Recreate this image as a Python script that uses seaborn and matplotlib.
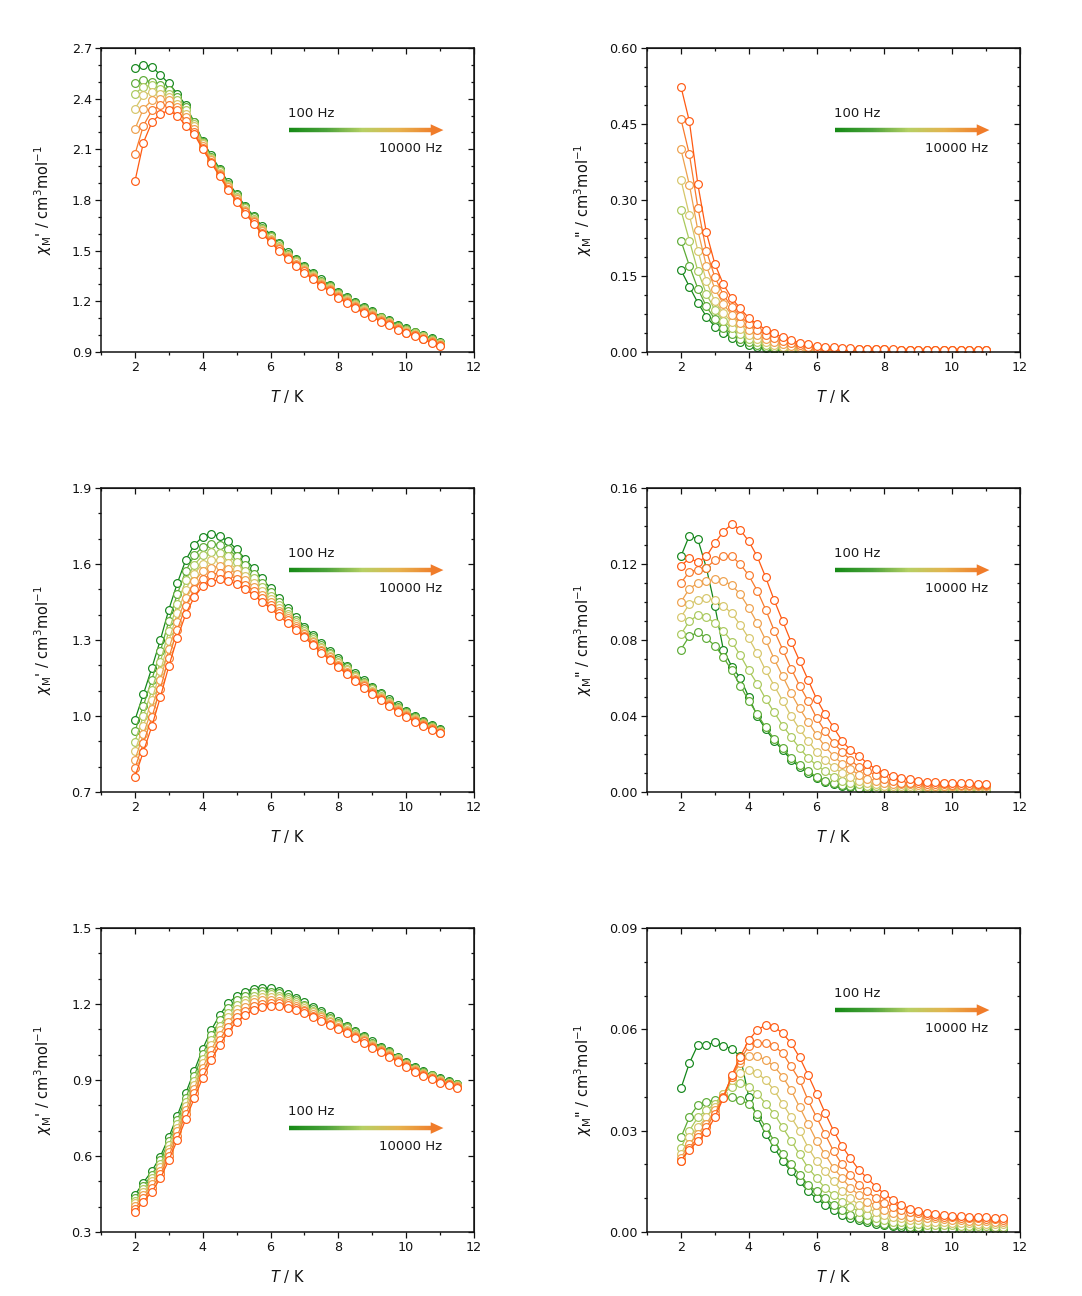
import numpy as np
import pandas as pd
import matplotlib
matplotlib.use("Agg")
import matplotlib.pyplot as plt
import seaborn as sns
from matplotlib.ticker import MultipleLocator, FixedLocator, FormatStrFormatter, NullFormatter
from matplotlib.collections import LineCollection
from matplotlib.colors import LinearSegmentedColormap
from matplotlib.patches import Polygon

# ---------------- data ----------------
freqs = [100, 215, 464, 1000, 2154, 4642, 10000]

T_a = [2.0, 2.25, 2.5, 2.75, 3.0, 3.25, 3.5, 3.75, 4.0, 4.25, 4.5, 4.75, 5.0, 5.25,
       5.5, 5.75, 6.0, 6.25, 6.5, 6.75, 7.0, 7.25, 7.5, 7.75, 8.0, 8.25, 8.5, 8.75,
       9.0, 9.25, 9.5, 9.75, 10.0, 10.25, 10.5, 10.75, 11.0]
T_b = T_a + [11.25, 11.5]

# panel 1: chi' (top)
p1_chi1 = [
    [2.58, 2.60, 2.59, 2.54, 2.49, 2.43, 2.36, 2.26, 2.15, 2.065, 1.985, 1.905, 1.835, 1.765, 1.705, 1.645, 1.595, 1.545, 1.49, 1.45, 1.41, 1.37, 1.33, 1.295, 1.255, 1.225, 1.195, 1.165, 1.14, 1.11, 1.09, 1.06, 1.04, 1.02, 1.00, 0.98, 0.96],
    [2.49, 2.51, 2.50, 2.48, 2.45, 2.41, 2.35, 2.26, 2.145, 2.057, 1.977, 1.897, 1.827, 1.757, 1.697, 1.637, 1.587, 1.537, 1.483, 1.443, 1.403, 1.363, 1.323, 1.289, 1.249, 1.219, 1.189, 1.159, 1.135, 1.105, 1.085, 1.055, 1.035, 1.016, 0.996, 0.976, 0.956],
    [2.43, 2.47, 2.48, 2.46, 2.43, 2.39, 2.33, 2.25, 2.14, 2.05, 1.97, 1.89, 1.82, 1.75, 1.69, 1.63, 1.58, 1.53, 1.477, 1.437, 1.397, 1.357, 1.317, 1.283, 1.243, 1.213, 1.183, 1.153, 1.13, 1.10, 1.08, 1.05, 1.03, 1.012, 0.992, 0.972, 0.952],
    [2.34, 2.42, 2.44, 2.43, 2.41, 2.37, 2.31, 2.24, 2.13, 2.042, 1.962, 1.882, 1.812, 1.742, 1.682, 1.622, 1.572, 1.522, 1.47, 1.43, 1.39, 1.35, 1.31, 1.278, 1.238, 1.208, 1.178, 1.148, 1.125, 1.095, 1.075, 1.045, 1.025, 1.007, 0.987, 0.967, 0.947],
    [2.22, 2.34, 2.39, 2.40, 2.39, 2.35, 2.29, 2.22, 2.12, 2.035, 1.955, 1.875, 1.805, 1.735, 1.675, 1.615, 1.565, 1.515, 1.463, 1.423, 1.383, 1.343, 1.303, 1.272, 1.232, 1.202, 1.172, 1.142, 1.12, 1.09, 1.07, 1.04, 1.02, 1.003, 0.983, 0.963, 0.943],
    [2.07, 2.24, 2.33, 2.36, 2.36, 2.33, 2.27, 2.20, 2.11, 2.027, 1.947, 1.867, 1.797, 1.727, 1.667, 1.607, 1.557, 1.507, 1.457, 1.417, 1.377, 1.337, 1.297, 1.266, 1.226, 1.196, 1.166, 1.136, 1.115, 1.085, 1.065, 1.035, 1.015, 0.999, 0.979, 0.959, 0.939],
    [1.91, 2.14, 2.26, 2.31, 2.33, 2.30, 2.24, 2.19, 2.10, 2.02, 1.94, 1.86, 1.79, 1.72, 1.66, 1.60, 1.55, 1.50, 1.45, 1.41, 1.37, 1.33, 1.29, 1.26, 1.22, 1.19, 1.16, 1.13, 1.11, 1.08, 1.06, 1.03, 1.01, 0.995, 0.975, 0.955, 0.935],
]

# panel 2: chi'' (top)
p2_chi2 = [
    [0.162, 0.129, 0.097, 0.070, 0.050, 0.038, 0.028, 0.020, 0.014, 0.010, 0.007, 0.005, 0.004, 0.003, 0.002, 0.002, 0.001, 0.001, 0.001, 0.001, 0.001, 0.001, 0.001, 0.001, 0.0005, 0.0005, 0.0005, 0.0005, 0.0005, 0.0005, 0.0005, 0.0005, 0.0005, 0.0005, 0.0005, 0.0005, 0.0005],
    [0.22, 0.17, 0.125, 0.09, 0.065, 0.048, 0.036, 0.026, 0.019, 0.014, 0.010, 0.007, 0.005, 0.004, 0.003, 0.003, 0.002, 0.002, 0.002, 0.002, 0.0015, 0.0015, 0.0015, 0.0015, 0.0015, 0.001, 0.001, 0.001, 0.001, 0.001, 0.001, 0.001, 0.001, 0.001, 0.001, 0.001, 0.001],
    [0.28, 0.22, 0.16, 0.115, 0.083, 0.062, 0.047, 0.035, 0.026, 0.019, 0.014, 0.010, 0.007, 0.006, 0.004, 0.004, 0.003, 0.003, 0.003, 0.002, 0.002, 0.002, 0.002, 0.002, 0.002, 0.0015, 0.0015, 0.0015, 0.0015, 0.0015, 0.0015, 0.0015, 0.0015, 0.0015, 0.0015, 0.0015, 0.0015],
    [0.34, 0.27, 0.20, 0.14, 0.10, 0.077, 0.059, 0.045, 0.034, 0.026, 0.019, 0.014, 0.010, 0.008, 0.006, 0.005, 0.004, 0.004, 0.004, 0.003, 0.003, 0.003, 0.003, 0.003, 0.003, 0.002, 0.002, 0.002, 0.002, 0.002, 0.002, 0.002, 0.002, 0.002, 0.002, 0.002, 0.002],
    [0.40, 0.33, 0.24, 0.17, 0.125, 0.095, 0.073, 0.057, 0.044, 0.034, 0.026, 0.020, 0.015, 0.012, 0.009, 0.007, 0.006, 0.005, 0.005, 0.004, 0.004, 0.004, 0.004, 0.004, 0.004, 0.0035, 0.0035, 0.0035, 0.0035, 0.0035, 0.0035, 0.0035, 0.0035, 0.0035, 0.0035, 0.0035, 0.0035],
    [0.46, 0.39, 0.285, 0.20, 0.148, 0.113, 0.089, 0.071, 0.055, 0.044, 0.034, 0.028, 0.021, 0.017, 0.013, 0.010, 0.008, 0.007, 0.007, 0.006, 0.005, 0.005, 0.005, 0.005, 0.005, 0.004, 0.004, 0.004, 0.004, 0.004, 0.004, 0.004, 0.004, 0.004, 0.004, 0.004, 0.004],
    [0.524, 0.455, 0.331, 0.236, 0.174, 0.134, 0.106, 0.086, 0.067, 0.055, 0.044, 0.037, 0.029, 0.024, 0.018, 0.015, 0.012, 0.010, 0.009, 0.008, 0.007, 0.006, 0.006, 0.005, 0.005, 0.005, 0.004, 0.004, 0.004, 0.004, 0.003, 0.003, 0.003, 0.003, 0.003, 0.003, 0.003],
]

# panel 3: chi' (middle)
p3_chi1 = [
    [0.984, 1.086, 1.190, 1.300, 1.420, 1.524, 1.616, 1.675, 1.708, 1.718, 1.710, 1.690, 1.658, 1.620, 1.583, 1.543, 1.504, 1.465, 1.425, 1.390, 1.353, 1.320, 1.287, 1.257, 1.228, 1.199, 1.169, 1.142, 1.116, 1.090, 1.066, 1.042, 1.020, 1.000, 0.982, 0.965, 0.948],
    [0.939, 1.041, 1.144, 1.255, 1.375, 1.481, 1.573, 1.634, 1.669, 1.680, 1.676, 1.659, 1.630, 1.596, 1.562, 1.525, 1.488, 1.451, 1.414, 1.380, 1.344, 1.312, 1.280, 1.250, 1.221, 1.192, 1.163, 1.136, 1.110, 1.085, 1.061, 1.037, 1.015, 0.996, 0.978, 0.961, 0.945],
    [0.899, 1.000, 1.103, 1.214, 1.335, 1.442, 1.535, 1.597, 1.634, 1.647, 1.645, 1.631, 1.606, 1.574, 1.543, 1.508, 1.474, 1.438, 1.403, 1.371, 1.337, 1.305, 1.273, 1.243, 1.214, 1.186, 1.157, 1.131, 1.105, 1.080, 1.056, 1.033, 1.011, 0.992, 0.974, 0.957, 0.942],
    [0.861, 0.961, 1.064, 1.176, 1.297, 1.405, 1.499, 1.562, 1.601, 1.615, 1.617, 1.604, 1.582, 1.554, 1.525, 1.492, 1.461, 1.427, 1.394, 1.363, 1.329, 1.298, 1.267, 1.237, 1.208, 1.180, 1.152, 1.126, 1.100, 1.075, 1.052, 1.028, 1.007, 0.988, 0.970, 0.954, 0.939],
    [0.827, 0.927, 1.029, 1.142, 1.264, 1.372, 1.467, 1.531, 1.572, 1.586, 1.591, 1.581, 1.561, 1.536, 1.510, 1.479, 1.449, 1.416, 1.385, 1.355, 1.323, 1.292, 1.261, 1.232, 1.203, 1.175, 1.147, 1.121, 1.096, 1.071, 1.048, 1.025, 1.004, 0.985, 0.967, 0.951, 0.937],
    [0.794, 0.893, 0.995, 1.108, 1.230, 1.340, 1.435, 1.500, 1.542, 1.558, 1.566, 1.557, 1.541, 1.518, 1.494, 1.465, 1.437, 1.406, 1.377, 1.348, 1.316, 1.286, 1.256, 1.226, 1.197, 1.170, 1.143, 1.117, 1.091, 1.067, 1.044, 1.021, 1.000, 0.981, 0.963, 0.948, 0.934],
    [0.760, 0.859, 0.960, 1.074, 1.197, 1.307, 1.403, 1.469, 1.513, 1.530, 1.540, 1.534, 1.520, 1.500, 1.478, 1.451, 1.425, 1.395, 1.368, 1.340, 1.310, 1.280, 1.250, 1.221, 1.192, 1.165, 1.138, 1.112, 1.087, 1.063, 1.040, 1.017, 0.997, 0.978, 0.960, 0.945, 0.932],
]

# panel 4: chi'' (middle)
p4_chi2 = [
    [0.124, 0.135, 0.133, 0.118, 0.098, 0.075, 0.066, 0.060, 0.050, 0.040, 0.033, 0.027, 0.022, 0.017, 0.013, 0.010, 0.0075, 0.0055, 0.004, 0.003, 0.0025, 0.002, 0.0015, 0.001, 0.001, 0.001, 0.001, 0.001, 0.001, 0.001, 0.001, 0.001, 0.001, 0.001, 0.001, 0.001, 0.001],
    [0.075, 0.082, 0.084, 0.081, 0.077, 0.071, 0.064, 0.056, 0.048, 0.041, 0.034, 0.028, 0.023, 0.018, 0.014, 0.011, 0.008, 0.006, 0.0045, 0.0035, 0.003, 0.002, 0.002, 0.0015, 0.001, 0.001, 0.001, 0.001, 0.001, 0.001, 0.001, 0.001, 0.001, 0.001, 0.001, 0.001, 0.001],
    [0.083, 0.090, 0.093, 0.092, 0.089, 0.085, 0.079, 0.072, 0.064, 0.057, 0.049, 0.042, 0.035, 0.029, 0.023, 0.018, 0.014, 0.011, 0.008, 0.006, 0.005, 0.004, 0.003, 0.003, 0.002, 0.002, 0.002, 0.002, 0.0015, 0.0015, 0.0015, 0.0015, 0.0015, 0.0015, 0.0015, 0.0015, 0.0015],
    [0.092, 0.099, 0.101, 0.102, 0.101, 0.098, 0.094, 0.088, 0.081, 0.073, 0.064, 0.056, 0.048, 0.040, 0.033, 0.027, 0.021, 0.017, 0.013, 0.010, 0.008, 0.006, 0.005, 0.004, 0.003, 0.003, 0.003, 0.003, 0.0025, 0.0025, 0.0025, 0.0025, 0.0025, 0.0022, 0.0022, 0.002, 0.002],
    [0.100, 0.107, 0.110, 0.111, 0.112, 0.111, 0.109, 0.104, 0.097, 0.089, 0.080, 0.070, 0.061, 0.052, 0.044, 0.037, 0.030, 0.024, 0.019, 0.015, 0.012, 0.009, 0.007, 0.006, 0.005, 0.004, 0.004, 0.004, 0.0035, 0.0033, 0.0032, 0.0032, 0.003, 0.003, 0.003, 0.003, 0.003],
    [0.110, 0.116, 0.117, 0.118, 0.122, 0.124, 0.124, 0.120, 0.114, 0.106, 0.096, 0.085, 0.075, 0.065, 0.056, 0.048, 0.039, 0.032, 0.026, 0.021, 0.017, 0.013, 0.011, 0.009, 0.007, 0.006, 0.005, 0.005, 0.0045, 0.0042, 0.004, 0.004, 0.0038, 0.0037, 0.0036, 0.0035, 0.0035],
    [0.119, 0.123, 0.121, 0.124, 0.131, 0.137, 0.141, 0.138, 0.132, 0.124, 0.113, 0.101, 0.090, 0.079, 0.069, 0.059, 0.049, 0.041, 0.034, 0.027, 0.022, 0.019, 0.015, 0.012, 0.010, 0.0085, 0.0075, 0.0068, 0.006, 0.0055, 0.0052, 0.005, 0.0048, 0.0046, 0.0045, 0.0044, 0.0043],
]

# panel 5: chi' (bottom)
p5_chi1 = [
    [0.446, 0.495, 0.541, 0.598, 0.674, 0.759, 0.848, 0.936, 1.023, 1.097, 1.156, 1.203, 1.232, 1.249, 1.261, 1.265, 1.262, 1.253, 1.239, 1.224, 1.206, 1.187, 1.171, 1.151, 1.132, 1.114, 1.093, 1.073, 1.052, 1.031, 1.013, 0.992, 0.972, 0.952, 0.934, 0.921, 0.907, 0.896, 0.886],
    [0.434, 0.482, 0.526, 0.583, 0.658, 0.742, 0.829, 0.917, 1.002, 1.076, 1.135, 1.183, 1.214, 1.232, 1.246, 1.251, 1.249, 1.242, 1.229, 1.215, 1.198, 1.180, 1.164, 1.145, 1.126, 1.109, 1.088, 1.068, 1.048, 1.027, 1.009, 0.988, 0.969, 0.949, 0.931, 0.918, 0.904, 0.893, 0.883],
    [0.423, 0.469, 0.512, 0.568, 0.643, 0.725, 0.812, 0.898, 0.983, 1.056, 1.115, 1.164, 1.196, 1.217, 1.231, 1.238, 1.238, 1.232, 1.220, 1.207, 1.191, 1.173, 1.158, 1.139, 1.121, 1.104, 1.083, 1.064, 1.044, 1.023, 1.006, 0.985, 0.965, 0.945, 0.928, 0.915, 0.901, 0.890, 0.880],
    [0.413, 0.458, 0.500, 0.555, 0.629, 0.711, 0.797, 0.882, 0.966, 1.038, 1.097, 1.147, 1.181, 1.203, 1.219, 1.226, 1.227, 1.223, 1.212, 1.200, 1.185, 1.167, 1.153, 1.134, 1.116, 1.099, 1.079, 1.060, 1.040, 1.020, 1.003, 0.982, 0.963, 0.943, 0.925, 0.912, 0.899, 0.888, 0.878],
    [0.403, 0.446, 0.488, 0.542, 0.616, 0.697, 0.781, 0.866, 0.949, 1.020, 1.079, 1.130, 1.166, 1.189, 1.206, 1.214, 1.217, 1.213, 1.204, 1.193, 1.178, 1.161, 1.147, 1.129, 1.111, 1.095, 1.075, 1.056, 1.036, 1.017, 0.999, 0.979, 0.960, 0.940, 0.922, 0.909, 0.896, 0.886, 0.876],
    [0.392, 0.434, 0.474, 0.527, 0.600, 0.680, 0.764, 0.847, 0.930, 1.000, 1.059, 1.111, 1.148, 1.174, 1.191, 1.201, 1.205, 1.203, 1.195, 1.185, 1.171, 1.154, 1.141, 1.123, 1.106, 1.089, 1.070, 1.052, 1.032, 1.013, 0.996, 0.976, 0.956, 0.936, 0.919, 0.906, 0.893, 0.883, 0.873],
    [0.380, 0.420, 0.459, 0.512, 0.584, 0.663, 0.745, 0.828, 0.909, 0.979, 1.038, 1.091, 1.130, 1.157, 1.176, 1.187, 1.192, 1.192, 1.185, 1.176, 1.163, 1.147, 1.134, 1.117, 1.100, 1.084, 1.065, 1.047, 1.028, 1.009, 0.992, 0.972, 0.953, 0.933, 0.916, 0.903, 0.890, 0.880, 0.870],
]

# panel 6: chi'' (bottom)
p6_chi2 = [
    [0.0425, 0.050, 0.0554, 0.0553, 0.0562, 0.0552, 0.0542, 0.052, 0.040, 0.034, 0.029, 0.025, 0.021, 0.018, 0.015, 0.012, 0.010, 0.008, 0.0065, 0.005, 0.004, 0.0035, 0.003, 0.0025, 0.002, 0.0018, 0.0015, 0.001, 0.001, 0.001, 0.001, 0.001, 0.001, 0.001, 0.001, 0.001, 0.001, 0.001, 0.001],
    [0.028, 0.034, 0.0376, 0.0386, 0.039, 0.040, 0.040, 0.039, 0.038, 0.035, 0.031, 0.027, 0.023, 0.020, 0.017, 0.014, 0.012, 0.010, 0.008, 0.0065, 0.005, 0.004, 0.0035, 0.003, 0.0025, 0.002, 0.002, 0.0015, 0.0015, 0.001, 0.001, 0.001, 0.001, 0.001, 0.001, 0.001, 0.001, 0.001, 0.001],
    [0.025, 0.030, 0.034, 0.036, 0.038, 0.041, 0.043, 0.044, 0.043, 0.041, 0.038, 0.035, 0.031, 0.027, 0.023, 0.019, 0.016, 0.013, 0.011, 0.009, 0.0075, 0.006, 0.005, 0.004, 0.0035, 0.003, 0.003, 0.0025, 0.0025, 0.002, 0.002, 0.002, 0.002, 0.0018, 0.0018, 0.0017, 0.0017, 0.0016, 0.0016],
    [0.023, 0.028, 0.031, 0.034, 0.037, 0.041, 0.045, 0.047, 0.048, 0.047, 0.045, 0.042, 0.038, 0.034, 0.030, 0.025, 0.021, 0.018, 0.015, 0.012, 0.010, 0.008, 0.007, 0.006, 0.005, 0.0045, 0.004, 0.0035, 0.0035, 0.003, 0.003, 0.003, 0.0028, 0.0027, 0.0026, 0.0025, 0.0025, 0.0024, 0.0024],
    [0.022, 0.026, 0.029, 0.032, 0.036, 0.040, 0.046, 0.050, 0.052, 0.052, 0.051, 0.049, 0.046, 0.042, 0.037, 0.032, 0.027, 0.023, 0.019, 0.016, 0.013, 0.011, 0.009, 0.008, 0.0065, 0.0055, 0.005, 0.0045, 0.0045, 0.004, 0.004, 0.0038, 0.0036, 0.0035, 0.0034, 0.0033, 0.0032, 0.0031, 0.0031],
    [0.021, 0.025, 0.028, 0.031, 0.035, 0.040, 0.046, 0.051, 0.055, 0.056, 0.056, 0.055, 0.053, 0.049, 0.045, 0.039, 0.034, 0.029, 0.024, 0.020, 0.017, 0.014, 0.012, 0.010, 0.0085, 0.0075, 0.0065, 0.006, 0.0055, 0.005, 0.0048, 0.0045, 0.0043, 0.0042, 0.0041, 0.004, 0.0039, 0.0038, 0.0037],
    [0.0211, 0.0243, 0.027, 0.0295, 0.034, 0.0396, 0.0465, 0.0519, 0.0568, 0.0598, 0.0613, 0.0608, 0.0588, 0.0559, 0.0517, 0.0465, 0.041, 0.0353, 0.030, 0.0255, 0.0218, 0.0184, 0.0159, 0.0134, 0.0113, 0.0095, 0.008, 0.0069, 0.0062, 0.0057, 0.0053, 0.005, 0.0048, 0.0046, 0.0045, 0.0044, 0.0043, 0.0042, 0.0041],
]

# y tick values for each panel
yt1 = [0.9, 1.2, 1.5, 1.8, 2.1, 2.4, 2.7]
yt2 = [0.0, 0.15, 0.30, 0.45, 0.60]
yt3 = [0.7, 1.0, 1.3, 1.6, 1.9]
yt4 = [0.0, 0.04, 0.08, 0.12, 0.16]
yt5 = [0.3, 0.6, 0.9, 1.2, 1.5]
yt6 = [0.0, 0.03, 0.06, 0.09]

curve_colors = ["#13861a", "#5cab35", "#a9c95c", "#d6c66a", "#eea04c", "#f87a2c", "#ff5a12"]
arrow_colors = ["#168a16", "#4aa23a", "#b6d064", "#e6b24e", "#f07c2a"]

y_label1 = r"$\chi_{\rm M}$' / cm$^{3}$mol$^{-1}$"
y_label2 = r'$\chi_{\rm M}$" / cm$^{3}$mol$^{-1}$'

# ---------------- style ----------------
sns.set_style("ticks")
plt.rcParams["font.family"] = ["DejaVu Sans"]
plt.rcParams["mathtext.fontset"] = "dejavusans"

fig = plt.figure(figsize=(10.82, 12.96), dpi=100)
fig.patch.set_facecolor("white")

arrow_cmap = LinearSegmentedColormap.from_list("arr", arrow_colors)

W = 373 / 1082
H = 304 / 1296
xl, xr = 101 / 1082, 647 / 1082
rows_b = [1 - 352 / 1296, 1 - 792 / 1296, 1 - 1232 / 1296]

panels = [
    dict(data=p1_chi1, T=T_a, pos=(xl, rows_b[0]), ylim=(0.9, 2.7), yt=yt1, mnr=0.1, fmt="%.1f", lab=y_label1, arrow=0.730),
    dict(data=p2_chi2, T=T_a, pos=(xr, rows_b[0]), ylim=(0.0, 0.6), yt=yt2, mnr=0.0375, fmt="%.2f", lab=y_label2, arrow=0.730),
    dict(data=p3_chi1, T=T_a, pos=(xl, rows_b[1]), ylim=(0.7, 1.9), yt=yt3, mnr=0.1, fmt="%.1f", lab=y_label1, arrow=0.730),
    dict(data=p4_chi2, T=T_a, pos=(xr, rows_b[1]), ylim=(0.0, 0.16), yt=yt4, mnr=0.01, fmt="%.2f", lab=y_label2, arrow=0.730),
    dict(data=p5_chi1, T=T_b, pos=(xl, rows_b[2]), ylim=(0.3, 1.5), yt=yt5, mnr=0.1, fmt="%.1f", lab=y_label1, arrow=0.342),
    dict(data=p6_chi2, T=T_b, pos=(xr, rows_b[2]), ylim=(0.0, 0.09), yt=yt6, mnr=0.01, fmt="%.2f", lab=y_label2, arrow=0.730),
]


def grad_arrow(ax, y):
    x0, x1 = 0.504, 0.918
    head, hh = 0.034, 0.019
    n = 150
    xs = np.linspace(x0, x1 - head + 0.003, n + 1)
    segs = [[(xs[i], y), (xs[i + 1], y)] for i in range(n)]
    cols = arrow_cmap(np.linspace(0, 0.97, n))
    lc = LineCollection(segs, colors=cols, linewidths=3.2, transform=ax.transAxes,
                        capstyle="butt", zorder=5)
    ax.add_collection(lc, autolim=False)
    ax.add_patch(Polygon([(x1 - head, y + hh), (x1, y), (x1 - head, y - hh)], closed=True,
                         transform=ax.transAxes, facecolor=arrow_cmap(1.0),
                         edgecolor="none", zorder=6))
    ax.text(x0 - 0.003, y + 0.053, "100 Hz", transform=ax.transAxes, fontsize=9.5,
            ha="left", va="center", color="#1a1a1a")
    ax.text(x1 - 0.004, y - 0.062, "10000 Hz", transform=ax.transAxes, fontsize=9.5,
            ha="right", va="center", color="#1a1a1a")


def style_ticks(axis_obj, which_params):
    axis_obj.tick_params(which="both", width=0.9, colors="#111111", **which_params)
    axis_obj.tick_params(which="major", length=4)
    axis_obj.tick_params(which="minor", length=2.5)


for p in panels:
    ax = fig.add_axes([p["pos"][0], p["pos"][1], W, H])
    rows = []
    for f, vals in zip(freqs, p["data"]):
        n = min(len(vals), len(p["T"]))
        for t, v in zip(p["T"][:n], vals[:n]):
            rows.append({"T": t, "chi": v, "freq": f})
    df = pd.DataFrame(rows)
    sns.lineplot(data=df, x="T", y="chi", hue="freq", palette=curve_colors,
                 hue_order=freqs, estimator=None, errorbar=None, sort=False,
                 marker="o", markersize=5.6, markerfacecolor="white",
                 markeredgewidth=0.85, linewidth=0.9, legend=False, ax=ax)
    for ln in ax.lines:
        ln.set_markeredgecolor(ln.get_color())
        ln.set_markerfacecolor("white")

    ax.set_xlim(1, 12)
    ax.set_ylim(*p["ylim"])
    ax.xaxis.set_major_locator(MultipleLocator(2))
    ax.xaxis.set_minor_locator(MultipleLocator(1))
    ax.yaxis.set_major_locator(FixedLocator(p["yt"]))
    ax.yaxis.set_minor_locator(MultipleLocator(p["mnr"]))
    ax.yaxis.set_major_formatter(FormatStrFormatter(p["fmt"]))
    style_ticks(ax, dict(direction="out", labelsize=9.2, top=False, right=False, pad=2.5))
    for s in ax.spines.values():
        s.set_visible(True)
        s.set_linewidth(1.1)
        s.set_color("#111111")

    sx = ax.secondary_xaxis("top")
    sx.xaxis.set_major_locator(MultipleLocator(2))
    sx.xaxis.set_minor_locator(MultipleLocator(1))
    sx.xaxis.set_major_formatter(NullFormatter())
    style_ticks(sx, dict(direction="in"))
    sy = ax.secondary_yaxis("right")
    sy.yaxis.set_major_locator(FixedLocator(p["yt"]))
    sy.yaxis.set_minor_locator(MultipleLocator(p["mnr"]))
    sy.yaxis.set_major_formatter(NullFormatter())
    style_ticks(sy, dict(direction="in"))

    ax.set_xlabel(r"$T$ / K", fontsize=10.5, color="#111111")
    ax.xaxis.set_label_coords(0.5, -0.118)
    ax.set_ylabel(p["lab"], fontsize=10.5, color="#111111")
    ax.yaxis.set_label_coords(-0.125 if p["pos"][0] < 0.5 else -0.143, 0.5)

    grad_arrow(ax, p["arrow"])

fig.savefig("out.png", dpi=100, facecolor="white")
